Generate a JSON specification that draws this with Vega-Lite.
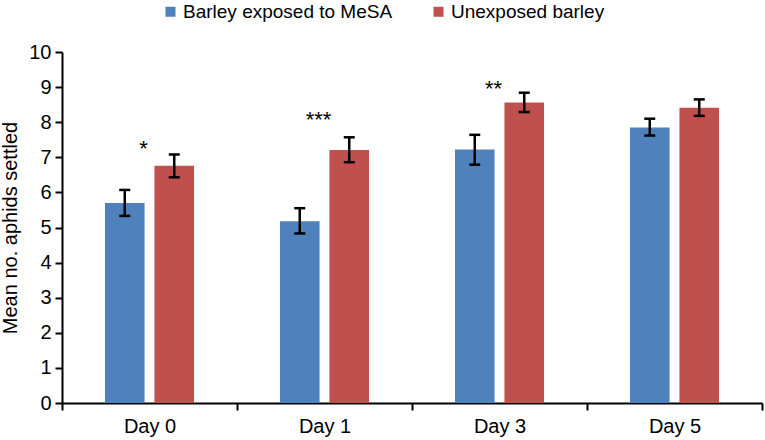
{
  "$schema": "https://vega.github.io/schema/vega-lite/v6.json",
  "width": 700,
  "height": 351,
  "autosize": "none",
  "padding": {"left": 62, "top": 52, "right": 3, "bottom": 37},
  "background": "white",
  "config": {
    "view": {"stroke": null},
    "font": "Liberation Sans",
    "axis": {
      "labelFont": "Liberation Sans", "titleFont": "Liberation Sans",
      "labelColor": "black", "titleColor": "black",
      "labelFontSize": 20, "titleFontSize": 20, "titleFontWeight": "normal",
      "tickSize": 7, "tickWidth": 2, "tickColor": "black",
      "domainColor": "black", "domainWidth": 2, "grid": false
    },
    "axisY": {"labelPadding": 4, "titlePadding": 8, "labelOverlap": false}
  },
  "datasets": {
    "means": [
      {"day": "Day 0", "group": "Barley exposed to MeSA", "mean": 5.70, "lo": 5.33, "hi": 6.07},
      {"day": "Day 0", "group": "Unexposed barley", "mean": 6.76, "lo": 6.43, "hi": 7.08},
      {"day": "Day 1", "group": "Barley exposed to MeSA", "mean": 5.18, "lo": 4.83, "hi": 5.55},
      {"day": "Day 1", "group": "Unexposed barley", "mean": 7.21, "lo": 6.86, "hi": 7.57},
      {"day": "Day 3", "group": "Barley exposed to MeSA", "mean": 7.22, "lo": 6.79, "hi": 7.64},
      {"day": "Day 3", "group": "Unexposed barley", "mean": 8.56, "lo": 8.29, "hi": 8.84},
      {"day": "Day 5", "group": "Barley exposed to MeSA", "mean": 7.85, "lo": 7.62, "hi": 8.10},
      {"day": "Day 5", "group": "Unexposed barley", "mean": 8.41, "lo": 8.18, "hi": 8.65}
    ],
    "stars": [
      {"day": "Day 0", "sig": "*", "pos": 7.05},
      {"day": "Day 1", "sig": "***", "pos": 7.85},
      {"day": "Day 3", "sig": "**", "pos": 8.75}
    ]
  },
  "encoding": {
    "x": {
      "field": "day", "type": "nominal", "title": null,
      "sort": ["Day 0", "Day 1", "Day 3", "Day 5"],
      "scale": {"paddingInner": 0, "paddingOuter": 0},
      "axis": {"labelAngle": 0, "labelPadding": 6, "tickBand": "extent"}
    }
  },
  "layer": [
    {
      "data": {"name": "means"},
      "mark": {"type": "bar"},
      "encoding": {
        "xOffset": {"field": "group", "type": "nominal", "sort": ["Barley exposed to MeSA", "Unexposed barley"], "scale": {"paddingInner": 0.2, "paddingOuter": 0.868}},
        "y": {
          "field": "mean", "type": "quantitative",
          "title": "Mean no. aphids settled",
          "scale": {"domain": [0, 10]},
          "axis": {"values": [0, 1, 2, 3, 4, 5, 6, 7, 8, 9, 10]}
        },
        "color": {
          "field": "group", "type": "nominal", "title": null,
          "scale": {"domain": ["Barley exposed to MeSA", "Unexposed barley"], "range": ["#4F81BD", "#C0504D"]},
          "legend": {
            "orient": "none", "direction": "horizontal", "legendX": 99, "legendY": -50,
            "symbolType": "square", "symbolSize": 100, "symbolOpacity": 1, "symbolStrokeWidth": 0,
            "labelFontSize": 19, "labelColor": "black", "labelOffset": 3, "labelLimit": 400, "columnPadding": 36
          }
        }
      }
    },
    {
      "data": {"name": "means"},
      "mark": {"type": "rule", "color": "black", "strokeWidth": 2.5},
      "encoding": {
        "xOffset": {"field": "group", "type": "nominal", "sort": ["Barley exposed to MeSA", "Unexposed barley"]},
        "y": {"field": "lo", "type": "quantitative", "title": "Mean no. aphids settled", "axis": {"values": [0, 1, 2, 3, 4, 5, 6, 7, 8, 9, 10]}},
        "y2": {"field": "hi"}
      }
    },
    {
      "data": {"name": "means"},
      "mark": {"type": "tick", "color": "black", "size": 11, "thickness": 2.5, "opacity": 1},
      "encoding": {
        "xOffset": {"field": "group", "type": "nominal", "sort": ["Barley exposed to MeSA", "Unexposed barley"]},
        "y": {"field": "lo", "type": "quantitative", "title": "Mean no. aphids settled", "axis": {"values": [0, 1, 2, 3, 4, 5, 6, 7, 8, 9, 10]}}
      }
    },
    {
      "data": {"name": "means"},
      "mark": {"type": "tick", "color": "black", "size": 11, "thickness": 2.5, "opacity": 1},
      "encoding": {
        "xOffset": {"field": "group", "type": "nominal", "sort": ["Barley exposed to MeSA", "Unexposed barley"]},
        "y": {"field": "hi", "type": "quantitative", "title": "Mean no. aphids settled", "axis": {"values": [0, 1, 2, 3, 4, 5, 6, 7, 8, 9, 10]}}
      }
    },
    {
      "data": {"name": "stars"},
      "mark": {"type": "text", "fontSize": 22, "color": "black", "dx": -6, "baseline": "alphabetic"},
      "encoding": {
        "y": {"field": "pos", "type": "quantitative", "title": "Mean no. aphids settled", "axis": {"values": [0, 1, 2, 3, 4, 5, 6, 7, 8, 9, 10]}},
        "text": {"field": "sig"}
      }
    }
  ]
}
